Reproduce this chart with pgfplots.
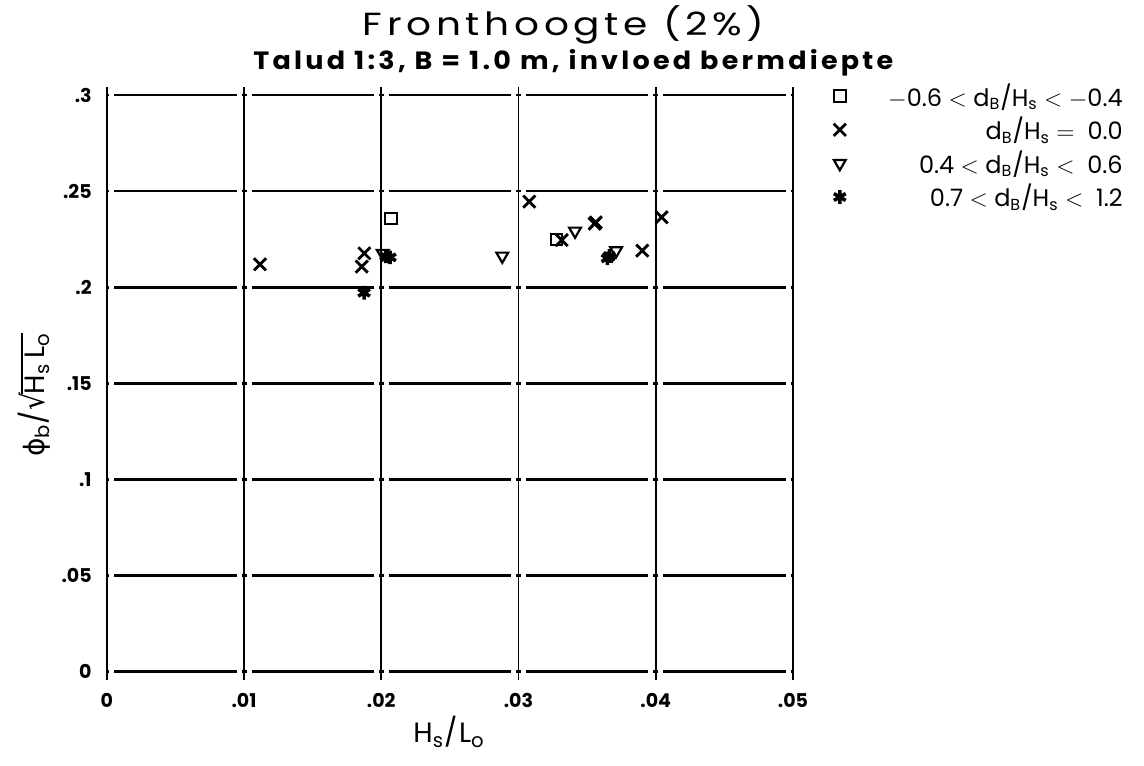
\documentclass[border=0pt]{standalone}
\usepackage{fontspec}
\setmainfont{Poppins}
\newfontfamily\dejavu{DejaVu Sans}
\usepackage{pgfplots}
\pgfplotsset{compat=1.18}

% data (H_s/L_o, phi_b/sqrt(H_s L_o))
\pgfplotstableread{
x y
0.02071 0.2358
0.03278 0.2249
}\tabsq
\pgfplotstableread{
x y
0.01117 0.2119
0.01877 0.2176
0.01858 0.2107
0.03079 0.2445
0.03315 0.2245
0.03563 0.2337
0.03555 0.2330
0.03902 0.2190
0.04043 0.2364
}\tabx
\pgfplotstableread{
x y
0.02011 0.2176
0.02882 0.2162
0.03412 0.2292
0.03711 0.2190
}\tabtri
\pgfplotstableread{
x y
0.02064 0.2155
0.02035 0.2160
0.01875 0.1971
0.03662 0.2162
0.03648 0.2150
}\tabast

\newcommand\dB{d\textsubscript{B}/H\textsubscript{s}}
% radical built from text glyphs
\newcommand\rad[1]{{\dejavu\scalebox{1}[1.12]{√}}\kern-0.6pt\vbox{\hrule height 0.8pt\kern1.2pt\hbox{#1}}}

\begin{document}
\begin{tikzpicture}
\useasboundingbox (-53.35pt,-46.75pt) rectangle (518.65pt,335.75pt);
\begin{axis}[
  at={(0,0)}, anchor=south west,
  scale only axis, width=343.15pt, height=288.25pt,
  clip=false,
  xmin=0, xmax=0.05, ymin=0, ymax=0.3,
  scaled x ticks=false, scaled y ticks=false,
  xtick={0,0.01,0.02,0.03,0.04,0.05},
  xticklabels={0,.01,.02,.03,.04,.05},
  ytick={0,0.05,0.1,0.15,0.2,0.25,0.3},
  yticklabels={0,.05,.1,.15,.2,.25,.3},
  ticklabel style={font=\bfseries\fontsize{9.5}{11}\selectfont},
  xticklabel style={yshift=-3.5pt},
  axis line style={draw=none},
  grid=major,
  x grid style={black, line width=0.9pt},
  y grid style={black, line width=1.4pt,
    dash pattern=on 61.15pt off 2.5pt on 2.5pt off 2.5pt, dash phase=64.9pt},
  tick align=outside, major tick length=4pt,
  xtick style={black, line width=0.9pt},
  ytick style={draw=none},
  xtick pos=both,
  xlabel={H\textsubscript{s}/L\textsubscript{o}},
  ylabel={{\dejavu ϕ}\textsubscript{b}/\rad{H\textsubscript{s}\,L\textsubscript{o}}},
  label style={font=\fontsize{14}{16}\selectfont\addfontfeatures{LetterSpace=6}, inner sep=0pt},
  xlabel style={at={(axis description cs:0.4988,-0.124)}, anchor=base},
  ylabel style={at={(axis description cs:-0.09,0.4796)}, anchor=base},
  legend style={at={(rel axis cs:1,1)}, anchor=north west, xshift=12pt, yshift=10pt,
    draw=none, fill=none, font=\fontsize{12}{14}\selectfont, row sep=0pt},
  legend cell align=right,
  legend image code/.code={\path (0pt,0pt) (30pt,0pt); \draw plot coordinates {(8pt,0pt)};},
]
\addplot[only marks, mark=square, mark size=2.9pt, mark options={line width=1pt, black}] table {\tabsq};
\addlegendentry{$-$0.6 $<$ \dB\ $<$ $-$0.4}
\addplot[only marks, mark=x, mark size=4.3pt, mark options={line width=1.4pt, black}] table {\tabx};
\addlegendentry{\dB\ $=$\ \ 0.0}
\addplot[only marks, mark=triangle, mark size=3.4pt, mark options={line width=1.1pt, black, rotate=180}] table {\tabtri};
\addlegendentry{0.4 $<$ \dB\ $<$\ \ 0.6}
\addplot[only marks, mark=asterisk, mark size=3.4pt, mark options={line width=1.8pt, black}] table {\tabast};
\addlegendentry{0.7 $<$ \dB\ $<$\ \ 1.2}
\node[anchor=base, xscale=1.22, transform shape, font=\fontsize{16}{19}\selectfont\addfontfeatures{LetterSpace=12}] at (axis description cs:0.666,1.104) {Fronthoogte (2\%)};
\node[anchor=base, xscale=1.08, transform shape, font=\bfseries\fontsize{12.5}{15}\selectfont\addfontfeatures{LetterSpace=12}] at (axis description cs:0.680,1.0434) {Talud 1:3, B = 1.0 m, invloed bermdiepte};
\end{axis}
\end{tikzpicture}
\end{document}
